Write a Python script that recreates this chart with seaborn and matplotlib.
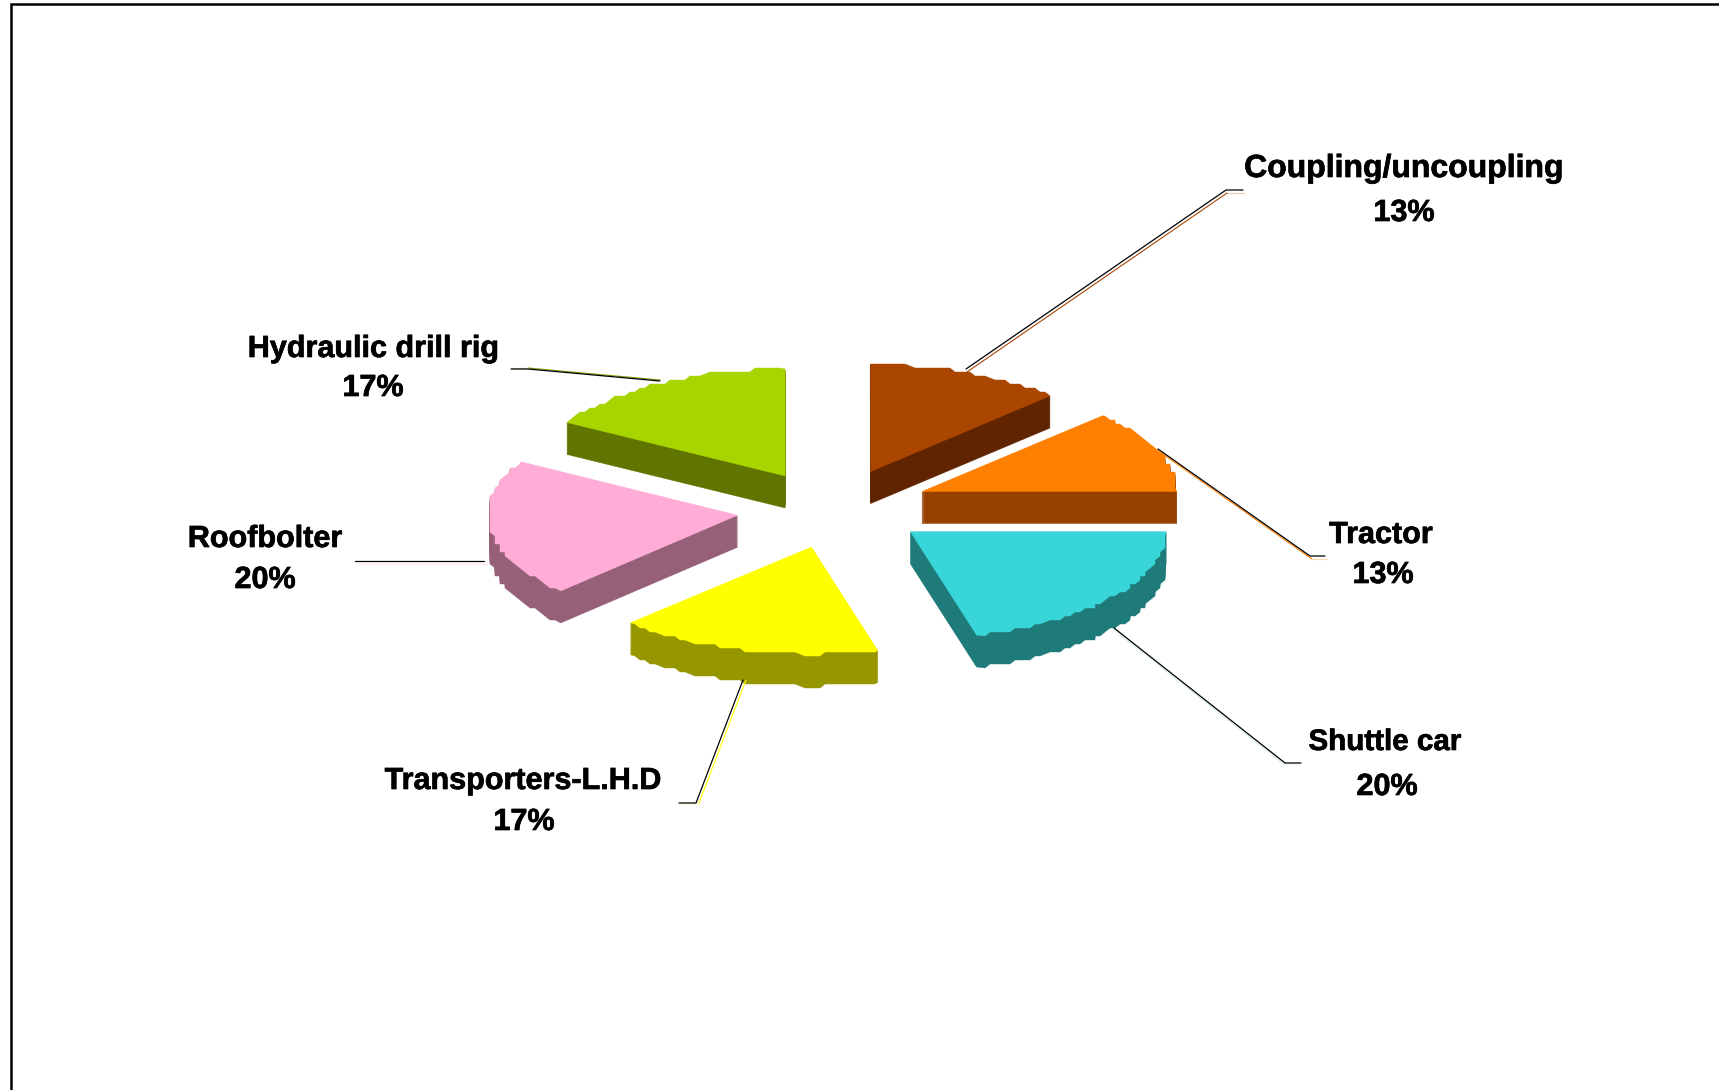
import numpy as np
import matplotlib
matplotlib.use('Agg')
import matplotlib.pyplot as plt
import matplotlib.patheffects as pe
from matplotlib.patches import Polygon
import seaborn as sns

#Data, counter clockwise from 3 o'clock
names = ['Tractor', 'Coupling/uncoupling', 'Hydraulic drill rig', 'Roofbolter', 'Transporters-L.H.D', 'Shuttle car']
weights = [3, 3, 4, 5, 4, 5]
percent_labels = [13, 13, 17, 20, 17, 20]
top_colors = ['#FF8000', '#AA4600', '#A8D500', '#FFADD6', '#FFFF00', '#38D6D8']
side_colors = ['#964000', '#602400', '#607500', '#966078', '#969600', '#1F7A7A']
edge_colors = ['#FF8000', '#AA4600', '#8A9A00', '#FFADD6', '#FFFF00', '#D5EEEE']

#Pie geometry in pixels
center_x, center_y = 833.5, 510
radius_x = [255, 254, 252, 250, 256, 256]
radius_y = 107
explode = 0.378
depth = 32
nudge_x = [-1, 0, 0, 0, 3, 0]
nudge_y = [-3, -1, 1, 0, -2, -3]

sns.set_theme(style='white')
plt.rcParams['font.family'] = ['Liberation Sans', 'DejaVu Sans']

fig = plt.figure(figsize=(17.19, 10.9), dpi=100)
ax = fig.add_axes([0, 0, 1, 1])
ax.set_xlim(0, 1719)
ax.set_ylim(1090, 0)
ax.axis('off')

#Frame of the original picture, only top and left are inside
ax.plot([11, 11, 1719], [1090, 4, 4], color='black', lw=1.8, solid_joinstyle='miter')

#Rough arcs like the low resolution original
def wedge_outline(x0, y0, rx, start, stop):
    angles = np.append(np.arange(start, stop, 1.6), stop)
    x = x0 + rx * np.cos(np.radians(angles))
    y = y0 - radius_y * np.sin(np.radians(angles))
    x[1:-1] = np.round(x[1:-1] / 5) * 5
    y[1:-1] = np.round(y[1:-1] / 4) * 4
    return np.column_stack([np.append(x0, x), np.append(y0, y)])

edges = np.cumsum([0] + weights) / sum(weights) * 360

for i in range(len(names)):
    mid = np.radians((edges[i] + edges[i + 1]) / 2)
    x0 = center_x + explode * 256 * np.cos(mid) + nudge_x[i]
    y0 = center_y - explode * radius_y * np.sin(mid) + nudge_y[i]
    outline = wedge_outline(x0, y0, radius_x[i], edges[i], edges[i + 1])
    #Side wall is the same wedge stacked downwards
    for d in range(depth, 0, -1):
        ax.add_patch(Polygon(outline + [0, d], closed=True, fc=side_colors[i], ec=side_colors[i], lw=0.3))
    ax.add_patch(Polygon(outline, closed=True, fc=top_colors[i], ec=top_colors[i], lw=0.3))

#Leader lines, black with a coloured one next to it
leaders = [
    ([1158, 1310, 1325], [449, 556, 556], [2, 3]),
    ([966, 1226, 1243], [369, 190, 190], [1, 3]),
    ([660, 528, 511], [381, 369, 369], [0, -1]),
    ([484, 355], [561, 561], [3, 3]),
    ([743, 696, 679], [680, 803, 803], [3, 0]),
    ([1114, 1285, 1301], [628, 763, 763], [0, 2]),
]
for i, (lx, ly, shift) in enumerate(leaders):
    lx2 = np.array(lx) + shift[0]
    ly2 = np.array(ly) + shift[1]
    ax.plot(lx2[:-1], ly2[:-1], color=edge_colors[i], lw=0.8)
    ax.plot(lx2[-2:], ly2[-2:], color=edge_colors[i], lw=0.8, alpha=0.3)
    ax.plot(lx, ly, color='black', lw=0.9)

#Labels
label_x = [1381, 1404, 373, 265, 523, 1385]
label_y = [535, 169, 349, 539, 781, 742]
value_x = [1383, 1404, 373, 265, 524, 1387]
value_y = [575, 213, 388, 580, 822, 787]
label_size = [22, 23, 22, 22, 22, 21.3]
heavy = [pe.withStroke(linewidth=0.5, foreground='black')]
for i, name in enumerate(names):
    ax.text(label_x[i], label_y[i], name, fontsize=label_size[i], fontweight='bold', color='black', ha='center', va='center', path_effects=heavy)
    ax.text(value_x[i], value_y[i], str(percent_labels[i]) + '%', fontsize=22, fontweight='bold', color='black', ha='center', va='center', path_effects=heavy)

plt.savefig('out.png', dpi=100)
